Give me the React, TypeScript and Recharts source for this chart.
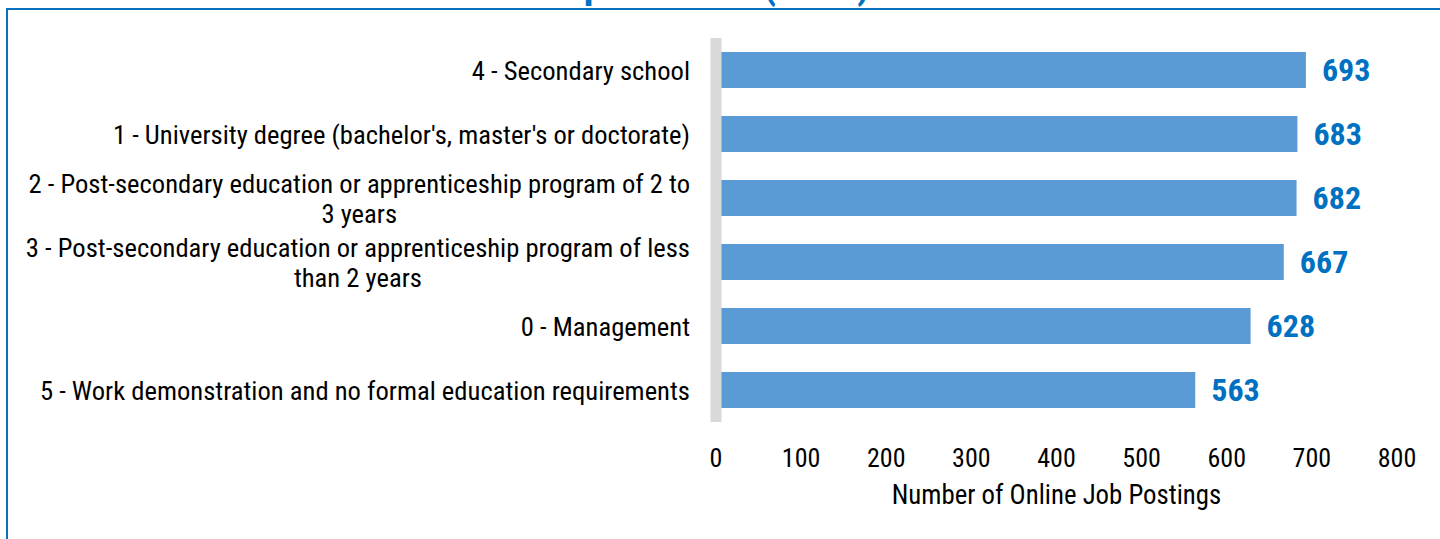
import React from 'react';
import { BarChart, Bar, XAxis, YAxis, LabelList } from 'recharts';

const categories = [
  '4 - Secondary school',
  "1 - University degree (bachelor's, master's or doctorate)",
  '2 - Post-secondary education or apprenticeship program of 2 to\n3 years',
  '3 - Post-secondary education or apprenticeship program of less\nthan 2 years',
  '0 - Management',
  '5 - Work demonstration and no formal education requirements',
];
const postings = [693, 683, 682, 667, 628, 563];
const xTicks = [0, 100, 200, 300, 400, 500, 600, 700, 800];
const titleText = 'Education Requirements (2023)';
const xAxisTitle = 'Number of Online Job Postings';

const FONT = '"Roboto Condensed", Roboto, sans-serif';
const TICK_SIZE = 26.6;
const LINE_H = 30;

let ctx: CanvasRenderingContext2D | null = null;
function measure(text: string, size: number, weight = 'normal'): number {
  if (!ctx) ctx = document.createElement('canvas').getContext('2d');
  if (!ctx) return text.length * size * 0.4;
  ctx.font = `${weight} ${size}px ${FONT}`;
  return ctx.measureText(text).width;
}

const data = categories.map((name, i) => ({ name, value: postings[i] }));

const YTick = (props: any) => {
  const { x, y, payload } = props;
  const lines = String(payload.value).split('\n');
  const widths = lines.map((l) => measure(l, TICK_SIZE));
  const blockW = Math.max(...widths);
  const center = x - blockW / 2;
  return (
    <g>
      {lines.map((ln, i) => {
        const yy = y + (i - (lines.length - 1) / 2) * LINE_H;
        return (
          <text
            key={i}
            x={center}
            y={yy}
            textAnchor="middle"
            dominantBaseline="central"
            fontFamily={FONT}
            fontSize={TICK_SIZE}
            fill="#000"
          >
            {ln}
          </text>
        );
      })}
    </g>
  );
};

export default function App() {
  return (
    <div style={{ position: 'absolute', left: 0, top: 0, width: 1440, height: 539, overflow: 'hidden', background: '#fff' }}>
      <div
        style={{
          position: 'absolute',
          left: 6,
          top: 8,
          width: 1500,
          height: 600,
          borderTop: '2px solid #0a70c0',
          borderLeft: '2px solid #0a70c0',
          boxSizing: 'border-box',
        }}
      />
      <svg style={{ position: 'absolute', left: 0, top: 0 }} width={1440} height={20}>
        <text x={870} y={-2} textAnchor="end" fontFamily={FONT} fontWeight="bold" fontSize={40} fill="#0070c0">
          {titleText}
        </text>
      </svg>
      <div style={{ position: 'absolute', left: 0, top: 0 }}>
        <BarChart
          width={1440}
          height={539}
          data={data}
          layout="vertical"
          margin={{ top: 38, right: 43, bottom: 35, left: 0 }}
          barCategoryGap={28}
        >
          <XAxis
            type="number"
            domain={[0, 800]}
            ticks={xTicks}
            axisLine={false}
            tickLine={false}
            tickMargin={21}
            height={82}
            tick={{ fontFamily: FONT, fontSize: 26, fill: '#000' }}
            label={{ value: xAxisTitle, position: 'insideBottom', offset: 0, fontFamily: FONT, fontSize: 26.8, fill: '#000' }}
          />
          <YAxis
            type="category"
            dataKey="name"
            width={716}
            axisLine={{ stroke: '#d9d9d9', strokeWidth: 11 }}
            tickLine={false}
            tickMargin={20}
            tick={<YTick />}
            interval={0}
          />
          <Bar dataKey="value" fill="#5b9bd5" barSize={36} isAnimationActive={false}>
            <LabelList
              dataKey="value"
              position="right"
              offset={16}
              fill="#0070c0"
              fontFamily={FONT}
              fontWeight="bold"
              fontSize={32}
            />
          </Bar>
        </BarChart>
      </div>
    </div>
  );
}
